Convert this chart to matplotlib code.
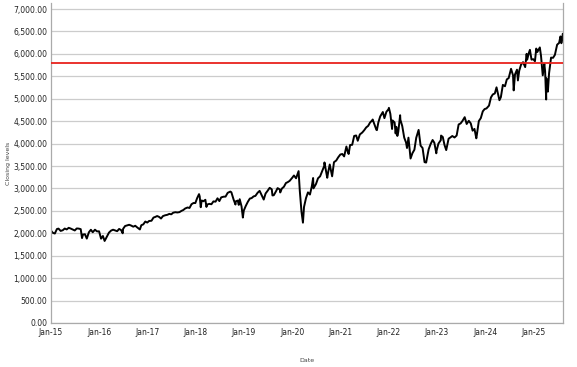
import pandas as pd
import numpy as np
import matplotlib
matplotlib.use("Agg")
import matplotlib.pyplot as plt
import matplotlib.dates as mdates
from matplotlib.ticker import FuncFormatter

# closing levels, read off the chart roughly twice a month plus the big swings
dates = [
    "2015-01-02", "2015-01-15", "2015-01-30", "2015-02-15", "2015-02-27", "2015-03-15", "2015-03-31",
    "2015-04-15", "2015-04-30", "2015-05-15", "2015-05-29", "2015-06-15", "2015-06-30", "2015-07-15",
    "2015-07-31", "2015-08-14", "2015-08-24", "2015-08-31", "2015-09-15", "2015-09-29", "2015-10-15",
    "2015-10-30", "2015-11-13", "2015-11-30", "2015-12-15", "2015-12-31",
    "2016-01-15", "2016-01-29", "2016-02-11", "2016-02-29", "2016-03-15", "2016-03-31", "2016-04-15",
    "2016-04-29", "2016-05-16", "2016-05-31", "2016-06-15", "2016-06-27", "2016-06-30", "2016-07-15",
    "2016-07-29", "2016-08-15", "2016-08-31", "2016-09-15", "2016-09-30", "2016-10-14", "2016-11-04",
    "2016-11-15", "2016-11-30", "2016-12-15", "2016-12-30",
    "2017-01-13", "2017-01-31", "2017-02-15", "2017-02-28", "2017-03-15", "2017-03-31", "2017-04-13",
    "2017-04-28", "2017-05-15", "2017-05-31", "2017-06-15", "2017-06-30", "2017-07-14", "2017-07-31",
    "2017-08-15", "2017-08-31", "2017-09-15", "2017-09-29", "2017-10-13", "2017-10-31", "2017-11-15",
    "2017-11-30", "2017-12-15", "2017-12-29",
    "2018-01-12", "2018-01-26", "2018-01-31", "2018-02-08", "2018-02-15", "2018-02-28", "2018-03-15",
    "2018-03-23", "2018-03-29", "2018-04-13", "2018-04-30", "2018-05-15", "2018-05-31", "2018-06-15",
    "2018-06-29", "2018-07-13", "2018-07-31", "2018-08-15", "2018-08-31", "2018-09-20", "2018-09-28",
    "2018-10-15", "2018-10-29", "2018-10-31", "2018-11-15", "2018-11-23", "2018-11-30", "2018-12-14",
    "2018-12-24", "2018-12-31",
    "2019-01-15", "2019-01-31", "2019-02-15", "2019-02-28", "2019-03-15", "2019-03-29", "2019-04-15",
    "2019-04-30", "2019-05-15", "2019-05-31", "2019-06-14", "2019-06-28", "2019-07-15", "2019-07-31",
    "2019-08-05", "2019-08-15", "2019-08-30", "2019-09-13", "2019-09-30", "2019-10-03", "2019-10-15",
    "2019-10-31", "2019-11-15", "2019-11-29", "2019-12-13", "2019-12-31",
    "2020-01-15", "2020-01-31", "2020-02-19", "2020-02-28", "2020-03-12", "2020-03-16", "2020-03-23",
    "2020-03-31", "2020-04-15", "2020-04-30", "2020-05-15", "2020-05-29", "2020-06-08", "2020-06-11",
    "2020-06-30", "2020-07-15", "2020-07-31", "2020-08-14", "2020-08-31", "2020-09-02", "2020-09-23",
    "2020-09-30", "2020-10-12", "2020-10-30", "2020-11-13", "2020-11-30", "2020-12-15", "2020-12-31",
    "2021-01-15", "2021-01-29", "2021-02-15", "2021-02-26", "2021-03-04", "2021-03-15", "2021-03-31",
    "2021-04-15", "2021-04-30", "2021-05-12", "2021-05-28", "2021-06-15", "2021-06-30", "2021-07-15",
    "2021-07-30", "2021-08-13", "2021-08-31", "2021-09-02", "2021-09-30", "2021-10-04", "2021-10-15",
    "2021-10-29", "2021-11-18", "2021-11-30", "2021-12-15", "2021-12-31",
    "2022-01-03", "2022-01-14", "2022-01-27", "2022-01-31", "2022-02-15", "2022-02-23", "2022-02-28",
    "2022-03-08", "2022-03-15", "2022-03-29", "2022-03-31", "2022-04-14", "2022-04-29", "2022-05-13",
    "2022-05-20", "2022-05-31", "2022-06-16", "2022-06-30", "2022-07-15", "2022-07-29", "2022-08-16",
    "2022-08-31", "2022-09-15", "2022-09-30", "2022-10-12", "2022-10-31", "2022-11-15", "2022-11-30",
    "2022-12-13", "2022-12-28", "2022-12-30",
    "2023-01-13", "2023-01-31", "2023-02-02", "2023-02-15", "2023-02-28", "2023-03-13", "2023-03-31",
    "2023-04-14", "2023-04-28", "2023-05-15", "2023-05-31", "2023-06-15", "2023-06-30", "2023-07-14",
    "2023-07-31", "2023-08-15", "2023-08-31", "2023-09-15", "2023-09-29", "2023-10-13", "2023-10-27",
    "2023-10-31", "2023-11-15", "2023-11-30", "2023-12-15", "2023-12-29",
    "2024-01-12", "2024-01-31", "2024-02-15", "2024-02-29", "2024-03-15", "2024-03-28", "2024-04-19",
    "2024-04-30", "2024-05-15", "2024-05-31", "2024-06-14", "2024-06-28", "2024-07-16", "2024-07-31",
    "2024-08-05", "2024-08-15", "2024-08-30", "2024-09-06", "2024-09-16", "2024-09-30", "2024-10-15",
    "2024-10-31", "2024-11-11", "2024-11-15", "2024-11-29", "2024-12-06", "2024-12-18", "2024-12-31",
    "2025-01-13", "2025-01-23", "2025-01-31", "2025-02-19", "2025-02-28", "2025-03-13", "2025-03-25",
    "2025-03-31", "2025-04-08", "2025-04-09", "2025-04-15", "2025-04-21", "2025-04-30", "2025-05-15",
    "2025-05-30", "2025-06-13", "2025-06-30", "2025-07-15", "2025-07-25", "2025-07-31", "2025-08-01",
    "2025-08-12",
]
closes = [
    2058, 2010, 1995, 2096, 2104, 2053, 2068, 2106, 2086, 2122, 2107, 2085, 2063, 2108,
    2104, 2092, 1893, 1972, 1979, 1882, 2023, 2079, 2023, 2080, 2043, 2044,
    1880, 1940, 1829, 1932, 2015, 2060, 2080, 2065, 2047, 2097, 2071, 2000, 2099, 2162,
    2174, 2190, 2171, 2147, 2168, 2133, 2085, 2180, 2199, 2262, 2239,
    2275, 2279, 2350, 2364, 2385, 2363, 2329, 2384, 2402, 2412, 2433, 2423, 2459, 2470,
    2464, 2472, 2500, 2519, 2553, 2575, 2565, 2648, 2675, 2674,
    2786, 2873, 2824, 2581, 2732, 2714, 2747, 2588, 2641, 2656, 2648, 2711, 2705, 2780,
    2718, 2801, 2816, 2818, 2902, 2930, 2914, 2750, 2641, 2711, 2730, 2633, 2760, 2600,
    2351, 2507,
    2610, 2704, 2775, 2784, 2822, 2834, 2905, 2946, 2850, 2752, 2887, 2942, 3014, 2980,
    2844, 2848, 2926, 3007, 2977, 2910, 2996, 3038, 3120, 3141, 3168, 3231,
    3289, 3226, 3386, 2954, 2481, 2386, 2237, 2585, 2783, 2912, 2864, 3044, 3232, 3002,
    3100, 3226, 3271, 3373, 3500, 3580, 3237, 3363, 3534, 3270, 3585, 3622, 3694, 3756,
    3768, 3714, 3934, 3811, 3768, 3968, 3973, 4170, 4181, 4063, 4204, 4246, 4298, 4360,
    4395, 4468, 4523, 4537, 4308, 4300, 4471, 4605, 4704, 4567, 4709, 4766,
    4797, 4662, 4326, 4516, 4471, 4225, 4374, 4170, 4262, 4632, 4530, 4392, 4132, 4023,
    3901, 4132, 3667, 3785, 3863, 4130, 4305, 3955, 3901, 3586, 3577, 3872, 3991, 4080,
    4019, 3783, 3840,
    3999, 4077, 4179, 4147, 3970, 3855, 4109, 4137, 4169, 4136, 4180, 4426, 4450, 4505,
    4589, 4437, 4508, 4450, 4288, 4327, 4117, 4194, 4502, 4568, 4719, 4770,
    4784, 4846, 5030, 5096, 5117, 5254, 4967, 5036, 5308, 5278, 5431, 5460, 5667, 5522,
    5186, 5543, 5648, 5408, 5626, 5762, 5815, 5705, 6001, 5870, 6032, 6090, 5872, 5882,
    5836, 6119, 6041, 6144, 5955, 5522, 5777, 5612, 4983, 5457, 5397, 5158, 5569, 5917,
    5912, 5977, 6205, 6244, 6389, 6339, 6238, 6445,
]
ref_level = 5800

df = pd.DataFrame({"Date": pd.to_datetime(dates), "Close": closes})

fig = plt.figure(figsize=(5.77, 3.67), dpi=100)
ax = fig.add_axes([0.0884, 0.1199, 0.887, 0.872])

ax.plot(df["Date"], df["Close"], color="black", linewidth=1.4)
ax.axhline(ref_level, color="#e8221c", linewidth=1.3, zorder=3)

ax.set_ylim(0, 7135)
ax.set_xlim(pd.Timestamp("2015-01-01"), df["Date"].iloc[-1])
ax.set_yticks(np.arange(0, 7001, 500))
ax.yaxis.set_major_formatter(FuncFormatter(lambda v, p: "{:,.2f}".format(v)))
ax.xaxis.set_major_locator(mdates.YearLocator())
ax.xaxis.set_major_formatter(mdates.DateFormatter("Jan-%y"))

ax.grid(axis="y", color="#cccccc", linewidth=0.9)
ax.set_axisbelow(True)
ax.tick_params(length=0, labelsize=5.5, labelcolor="#222222", pad=2.5)
ax.tick_params(axis="x", pad=3.5)
for s in ["left", "bottom", "right"]:
    ax.spines[s].set_color("#aaaaaa")
    ax.spines[s].set_linewidth(0.9)
ax.spines["top"].set_visible(False)

ax.set_ylabel("Closing levels", fontsize=4.5, color="#444444", labelpad=2)
ax.set_xlabel("Date", fontsize=4.5, color="#444444", labelpad=15)

plt.savefig("out.png", dpi=100)
